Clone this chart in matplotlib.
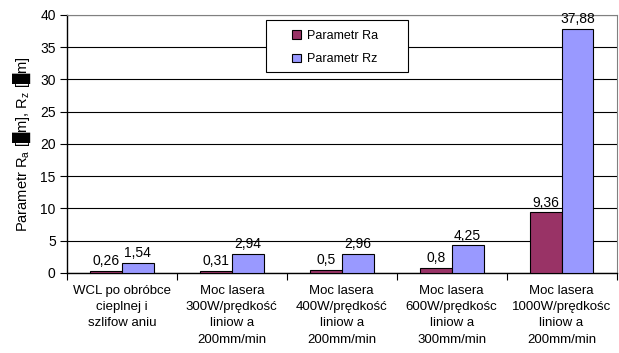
import numpy as np
import matplotlib.pyplot as plt
from matplotlib.patches import Rectangle

categories = [
    "WCL po obróbce\ncieplnej i\nszlifow aniu",
    "Moc lasera\n300W/prędkość\nliniow a\n200mm/min",
    "Moc lasera\n400W/prędkość\nliniow a\n200mm/min",
    "Moc lasera\n600W/prędkośc\nliniow a\n300mm/min",
    "Moc lasera\n1000W/prędkośc\nliniow a\n200mm/min",
]
ra_values = [0.26, 0.31, 0.5, 0.8, 9.36]
rz_values = [1.54, 2.94, 2.96, 4.25, 37.88]
series_names = ["Parametr Ra", "Parametr Rz"]

plt.rcParams['font.family'] = ['Liberation Sans', 'DejaVu Sans']

fig = plt.figure(figsize=(6.19, 3.53), dpi=100)
ax = fig.add_axes([0.108, 0.227, 0.888, 0.731])

x = np.arange(len(categories)) + 0.5
w = 0.29
b1 = ax.bar(x - w / 2, ra_values, w, color="#993366", edgecolor="black",
            linewidth=0.8, label=series_names[0], zorder=3)
b2 = ax.bar(x + w / 2, rz_values, w, color="#9999FF", edgecolor="black",
            linewidth=0.8, label=series_names[1], zorder=3)

for bars, vals in ((b1, ra_values), (b2, rz_values)):
    for bar, v in zip(bars, vals):
        ax.annotate(f"{v:g}".replace(".", ","),
                    (bar.get_x() + bar.get_width() / 2, v),
                    xytext=(0, 2), textcoords="offset points",
                    ha="center", va="bottom", fontsize=10, zorder=4)

ax.set_xlim(0, 5)
ax.set_ylim(0, 40)
ax.set_yticks(np.arange(0, 41, 5))
ax.yaxis.grid(True, color="black", linewidth=0.8, zorder=0)
ax.set_axisbelow(True)

ax.set_xticks(x)
ax.set_xticklabels(categories, fontsize=9.5, linespacing=1.45)
ax.set_xticks(np.arange(0, 6), minor=True)
ax.tick_params(axis="x", which="major", length=0, pad=9)
ax.tick_params(axis="x", which="minor", length=5, width=0.8)
ax.tick_params(axis="y", length=5, width=0.8, labelsize=10, pad=3)

for s in ("top", "right"):
    ax.spines[s].set_color("#808080")
for s in ("left", "bottom"):
    ax.spines[s].set_linewidth(1.0)

ax.set_ylabel(r"Parametr R$_\mathregular{a}$ [█m], R$_\mathregular{z}$ [█m]",
              fontsize=10.5, labelpad=5)

# legend box drawn separately so that the side padding can be wider
ax.add_patch(Rectangle((0.3625, 0.779), 0.2585, 0.2016, transform=ax.transAxes,
                       facecolor="white", edgecolor="black", linewidth=0.8,
                       zorder=5, clip_on=False))
leg = ax.legend(loc="upper left", bbox_to_anchor=(0.41, 0.943), fontsize=9,
                frameon=False, handlelength=0.7, handleheight=0.7,
                borderpad=0, borderaxespad=0, labelspacing=0.95,
                handletextpad=0.5)
leg.set_zorder(6)

fig.savefig("out.png", dpi=100)
